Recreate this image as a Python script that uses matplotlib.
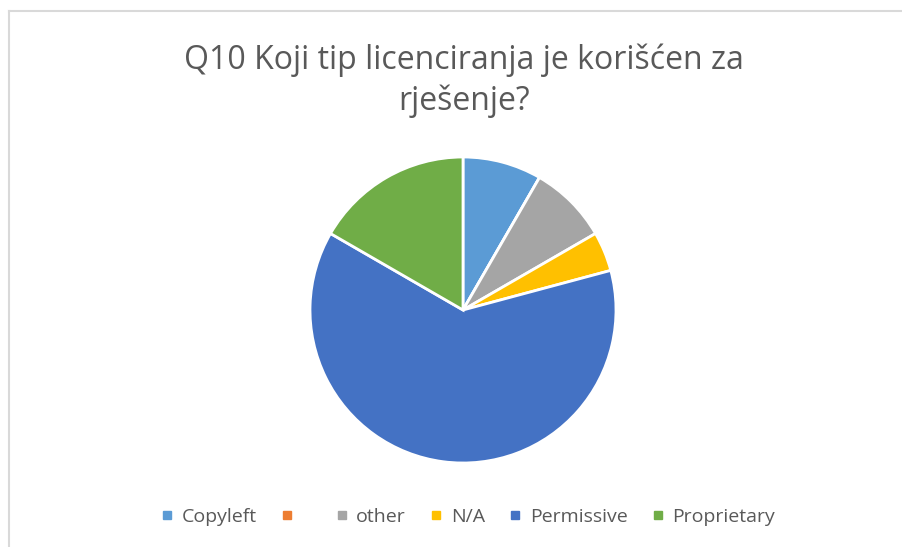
import matplotlib
matplotlib.use('Agg')
import matplotlib.pyplot as plt
from matplotlib.lines import Line2D

labels = ['Copyleft', '', 'other', 'N/A', 'Permissive', 'Proprietary']
counts = [2, 0, 2, 1, 15, 4]
colors = ['#5B9BD5', '#ED7D31', '#A5A5A5', '#FFC000', '#4472C4', '#70AD47']
title = 'Q10 Koji tip licenciranja je korišćen za\nrješenje?'

W, H = 903, 547
fig = plt.figure(figsize=(W / 100, H / 100), dpi=100)

# chart frame (top and left only visible)
fig.add_artist(Line2D([9 / W, 9 / W], [0, 1 - 11 / H], color='#D9D9D9', lw=1.5))
fig.add_artist(Line2D([9 / W, 1], [1 - 11 / H, 1 - 11 / H], color='#D9D9D9', lw=1.5))

fig.text(464 / W, 1 - 81 / H, title, ha='center', va='center', fontsize=23,
         color='#595959', family='Open Sans', linespacing=1.3)

r = 153
cx, cy = 463, 310
ax = fig.add_axes([(cx - r) / W, (H - cy - r) / H, 2 * r / W, 2 * r / H])
ax.pie(counts, colors=colors, startangle=90, counterclock=False,
       wedgeprops=dict(edgecolor='white', linewidth=2))
ax.set_xlim(-1, 1)
ax.set_ylim(-1, 1)
ax.axis('off')

handles = [Line2D([], [], marker='s', linestyle='none', markersize=6,
                  markerfacecolor=c, markeredgecolor=c) for c in colors]
fig.legend(handles, [l if l else '  ' for l in labels], loc='center',
           bbox_to_anchor=(468 / W, 1 - 517 / H), ncol=6, frameon=False,
           handlelength=0.6, handletextpad=0.45, columnspacing=1.25,
           prop={'family': 'Open Sans', 'size': 14}, labelcolor='#595959')

fig.savefig('out.png', dpi=100, facecolor='white')
